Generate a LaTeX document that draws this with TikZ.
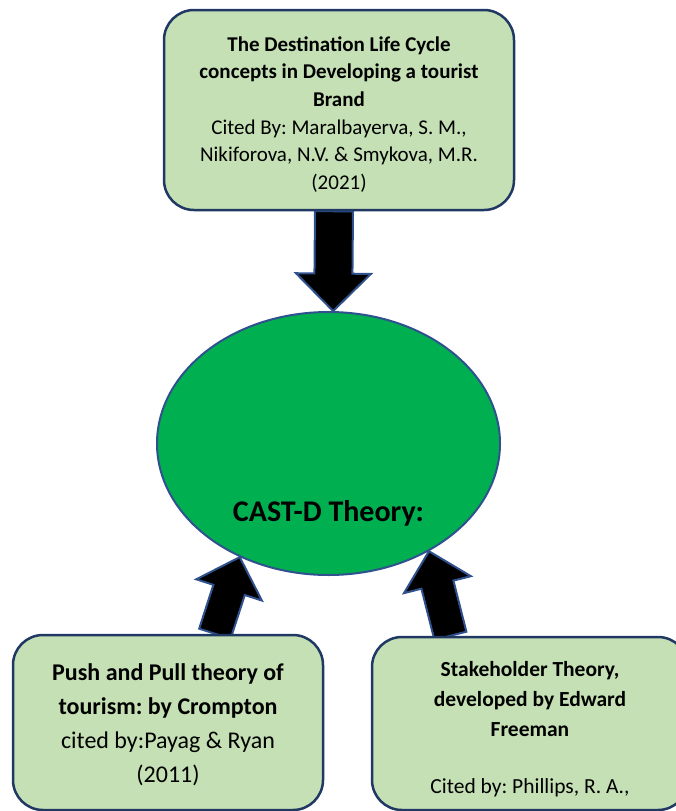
\documentclass[tikz,border=0pt]{standalone}
\usepackage{fontspec}
\setmainfont{Carlito}
\usepackage{tikz}
\usetikzlibrary{calc}
\usetikzlibrary{positioning}
\usetikzlibrary{shapes.geometric,backgrounds}
\frenchspacing

\definecolor{boxgreen}{HTML}{C5E0B4}
\definecolor{boxline}{HTML}{203864}
\definecolor{castgreen}{HTML}{00B050}
\definecolor{castline}{HTML}{2F528F}

%block arrow: shaft half width, head half width, from, to
\newcommand{\blockarrow}[4]{%
	\coordinate (ba-s) at (#3);
	\coordinate (ba-t) at (#4);
	\coordinate (ba-h) at ($(ba-t)!#2!(ba-s)$);
	\draw[blockarr] ($(ba-s)!#1!90:(ba-t)$) -- ($(ba-h)!#1!90:(ba-t)$)
		-- ($(ba-h)!#2!90:(ba-t)$) -- (ba-t)
		-- ($(ba-h)!#2!-90:(ba-t)$) -- ($(ba-h)!#1!-90:(ba-t)$)
		-- ($(ba-s)!#1!-90:(ba-t)$) -- cycle;
}

\begin{document}
\begin{tikzpicture}[x=1pt,y=-1pt,
	theorybox/.style={draw=boxline,line width=2.5pt,fill=boxgreen,rounded corners=30pt,align=center,inner sep=0pt},
	castnode/.style={ellipse,draw=castline,line width=2pt,fill=castgreen,inner sep=0pt},
	blockarr/.style={fill=black,draw=castline,line width=2pt}]
		\useasboundingbox (0,0) rectangle (675,811);
		%print boxes
		\node[theorybox,minimum width=350,minimum height=200,font=\fontsize{21}{27.6}\selectfont] (top) at (339,110)
			{\rule{0pt}{23.5pt}\textbf{The Destination Life Cycle}\\ \textbf{concepts in Developing a tourist}\\ \textbf{Brand}\\
			 Cited By: Maralbayerva, S. M.,\\ Nikiforova, N.V. \& Smykova, M.R.\\ (2021)};
		\node[castnode,minimum width=343,minimum height=263,
			label={[yshift=-70pt,font=\fontsize{30}{36}\selectfont\bfseries]center:CAST-D Theory:}] (cast) at (328.5,443.5) {};
		\node[theorybox,minimum width=310,minimum height=175,font=\fontsize{24}{34}\selectfont] (push) at (168,722.5)
			{\rule{0pt}{21.5pt}\textbf{Push and Pull theory of}\\ \textbf{tourism: by Crompton}\\ cited by:Payag \& Ryan\\ (2011)};
		\node[theorybox,minimum width=316,minimum height=173,font=\fontsize{21.5}{30}\selectfont] (stake) at (530,723.5)
			{\rule{0pt}{26pt}\textbf{Stakeholder Theory,}\\ \textbf{developed by Edward}\\ \textbf{Freeman}\\[27pt] Cited by: Phillips, R. A.,};
		%print arrows
		\begin{scope}[on background layer]
			\blockarrow{19pt}{37.5pt}{$(top.south)-(5,0)$}{cast.88}
			\blockarrow{16.5pt}{34.5pt}{$(push.north)!0.3!(push.north east)$}{cast.232}
			\blockarrow{16.5pt}{34.5pt}{$(stake.north west)!0.5!(stake.north)$}{cast.-47.5}
		\end{scope}
	\end{tikzpicture}
\end{document}
